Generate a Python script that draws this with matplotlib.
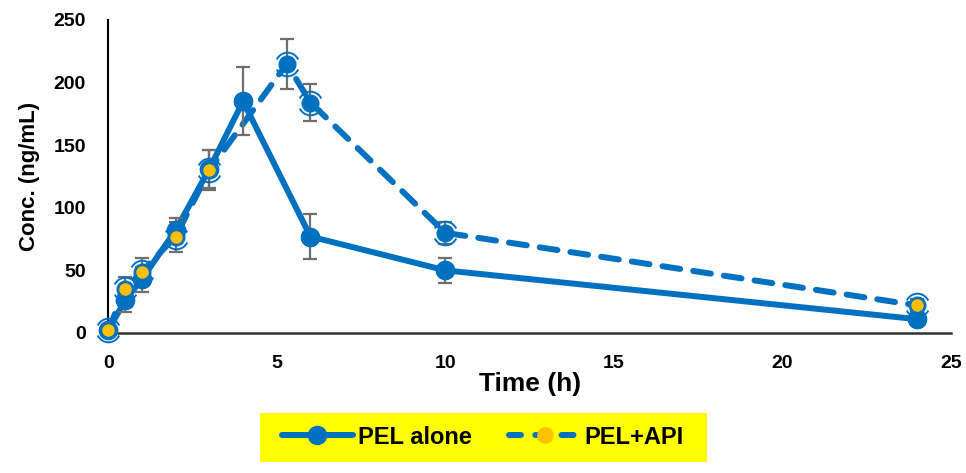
"""Plasma concentration-time profile: PEL alone vs PEL+API."""

import matplotlib
matplotlib.use("Agg")
import matplotlib.pyplot as plt
from matplotlib.path import Path
from matplotlib.patches import Rectangle

plt.rcParams["font.family"] = ["Liberation Sans", "DejaVu Sans"]
plt.rcParams["font.weight"] = "bold"

# data
time_alone = [0, 0.5, 1, 2, 3, 4, 6, 10, 24]
conc_alone = [2, 26, 43, 82, 131, 185, 77, 50, 11]
err_alone = [2, 9, 10, 10, 15, 27, 18, 10, 4]

time_api = [0, 0.5, 1, 2, 3, 5.3, 6, 10, 24]
conc_api = [2, 35, 49, 77, 130, 215, 184, 80, 22]
err_api = [2, 10, 11, 12, 16, 20, 15, 9, 5]

x_ticks = [0, 5, 10, 15, 20, 25]
y_ticks = [0, 50, 100, 150, 200, 250]

BLUE = "#0070C0"
GOLD = "#FFC000"
GREY = "#6E6E6E"

ring = Path.make_compound_path(Path.arc(25, 155), Path.arc(205, 335))

fig = plt.figure(figsize=(9.66, 4.73), dpi=100)
ax = fig.add_axes([0.112, 0.296, 0.8725, 0.662])

ax.plot(time_alone, conc_alone, color=BLUE, lw=4.3, solid_capstyle="round",
        marker="o", ms=13, mfc=BLUE, mec=BLUE, zorder=3, label="PEL alone")
ax.errorbar(time_alone, conc_alone, yerr=err_alone, fmt="none", ecolor=GREY,
            elinewidth=1.6, capsize=5, capthick=1.6, zorder=4)
ax.plot(time_alone, conc_alone, ls="none", marker="o", ms=13, mfc=BLUE, mec=BLUE, zorder=5)

ax.plot(time_api, conc_api, color=BLUE, lw=4.3, ls=(0, (3.0, 2.2)),
        dash_capstyle="round", zorder=3)
ax.errorbar(time_api, conc_api, yerr=err_api, fmt="none", ecolor=GREY,
            elinewidth=1.6, capsize=5, capthick=1.6, zorder=4)
# marker faces: gold for most points, blue around the peak
gold_idx = [0, 1, 2, 3, 4, 8]
blue_idx = [5, 6, 7]
ax.plot([time_api[i] for i in gold_idx], [conc_api[i] for i in gold_idx], ls="none",
        marker="o", ms=11, mfc=GOLD, mec=BLUE, mew=2, zorder=5)
ax.plot([time_api[i] for i in blue_idx], [conc_api[i] for i in blue_idx], ls="none",
        marker="o", ms=11, mfc=BLUE, mec=BLUE, mew=2, zorder=5)
ax.plot(time_api, conc_api, ls="none", marker=ring, ms=17, mfc="none", mec=BLUE,
        mew=1.4, zorder=6)

ax.set_xlim(0, 25)
ax.set_ylim(0, 250)
ax.set_xticks(x_ticks)
ax.set_yticks(y_ticks)
ax.tick_params(axis="x", length=0, labelsize=14, pad=16)
ax.tick_params(axis="y", length=0, labelsize=14, pad=16)
for lab in ax.get_xticklabels() + ax.get_yticklabels():
    lab.set_fontweight("bold")
ax.spines[["top", "right"]].set_visible(False)
ax.spines["left"].set_linewidth(1.5)
ax.spines["bottom"].set_linewidth(1.8)
ax.spines["bottom"].set_color("#333333")
for artist in ax.lines:
    artist.set_clip_on(False)

ax.set_xlabel("Time (h)", fontsize=19, fontweight="bold", labelpad=0)
ax.set_ylabel("Conc. (ng/mL)", fontsize=16, fontweight="bold", labelpad=10)

# legend on a yellow band
fig.patches.append(Rectangle((260 / 966, 1 - 462 / 473), 447 / 966, 49 / 473,
                             transform=fig.transFigure, facecolor="#FFFF00",
                             edgecolor="none", zorder=0))
h1, = ax.plot([], [], color=BLUE, lw=4.3, marker="o", ms=13, solid_capstyle="round")
h2, = ax.plot([], [], color=BLUE, lw=4.3, ls=(0, (2.0, 2.4)), dash_capstyle="round",
              marker="o", ms=11, mfc=GOLD, mec=GOLD)
fig.legend([h1, h2], ["PEL alone", "PEL+API"], loc="center", ncol=2,
           bbox_to_anchor=(483 / 966, 1 - 437 / 473), frameon=False,
           prop={"size": 17, "weight": "bold"}, handlelength=3.0,
           handletextpad=0.2, columnspacing=1.6)

fig.savefig("out.png", dpi=100)
